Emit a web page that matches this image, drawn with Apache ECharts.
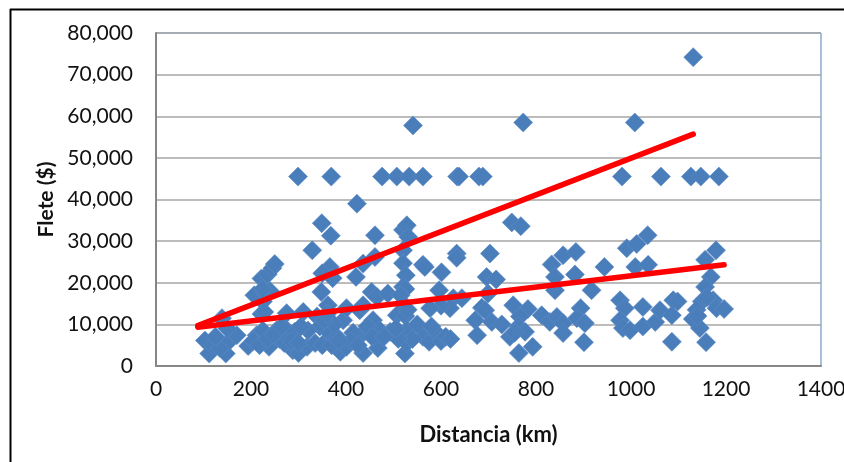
<!DOCTYPE html>
<html><head><meta charset="utf-8">
<style>html,body{margin:0;padding:0;background:#fff}#c{width:844px;height:462px}</style>
<script src="https://cdn.jsdelivr.net/npm/echarts@6/dist/echarts.min.js"></script>
</head><body><div id="c"></div>
<script>
const tituloX = "Distancia (km)";
const tituloY = "Flete ($)";
const puntosAltos = [[299,45500],[369,45500],[423,39000],[476,45500],[507,45500],[533,45500],[562,45500],[634,45500],[638,45500],[680,45500],[688,45500],[541,57800],[773,58500],[1008,58500],[1131,74200],[981,45500],[1063,45500],[1126,45500],[1147,45500],[1185,45500],[749,34500],[768,33600]];
const puntosIzquierda = [[112,3000],[147,3000],[103,6100],[120,5000],[135,4300],[156,6200],[170,7400],[139,11500],[150,9000],[125,7000],[194,4800],[212,7400],[225,8500],[222,12500],[225,15500],[228,13000],[215,17000],[207,17000],[230,17500],[222,21000],[235,22000],[245,23500],[250,24500],[240,18000],[238,4600],[275,12700],[254,8600],[288,3800],[300,3100],[318,4600],[310,13000],[275,8700],[292,8200],[349,34300],[368,31300],[329,27800],[366,23800],[350,22300],[372,21100],[348,17800],[362,14600],[339,11900],[345,9500],[360,6200],[388,3400],[401,4600],[366,7900],[381,7000],[394,11000],[401,13900],[429,13400],[436,14600],[421,21400],[461,31400],[461,26200],[436,24600],[454,17800],[465,16600],[488,17400],[520,32700],[528,33800],[531,31000],[520,27800],[520,24700],[526,21800],[520,19000],[562,24300],[507,12200],[525,12000],[457,11000],[471,8600],[467,4300],[493,8200],[436,3100],[436,7900],[415,8000],[524,3000],[528,5500],[528,8600],[562,7000],[550,10000],[540,6500],[260,6500],[270,5500],[285,6000],[300,5500],[335,5500],[350,5000],[370,5000],[375,10000],[355,11000],[320,8500],[305,9500],[410,6000],[425,5000],[385,6000],[510,6500],[505,9000],[575,5800],[590,8000],[600,6000],[610,7000],[580,9500],[620,6500],[205,6000],[218,5000],[235,6500],[248,7500],[265,9500],[525,18500],[520,15000],[530,13500],[515,17000],[445,9500],[455,7000],[480,7000],[360,12500],[225,18500]];
const puntosDerecha = [[633,27000],[633,26000],[703,27000],[601,22500],[566,23800],[596,18200],[626,16300],[644,16300],[619,13900],[600,14500],[577,13900],[696,21400],[716,20800],[699,17400],[686,14000],[693,13400],[672,11000],[707,10600],[728,10000],[676,7400],[752,14600],[783,13700],[766,11900],[763,9500],[777,8200],[745,7000],[755,8000],[764,3100],[793,4600],[812,12200],[829,10600],[844,11800],[857,10300],[857,7900],[833,24400],[840,21400],[840,18200],[857,26600],[884,27400],[882,22000],[917,18200],[944,23800],[894,13900],[886,11500],[903,10300],[901,5700],[977,15800],[987,13900],[977,11000],[983,9100],[998,8600],[1025,14200],[1025,9500],[1051,10600],[1061,13400],[1086,12200],[1089,15800],[1098,15500],[1086,5800],[991,28300],[1012,29300],[1035,31400],[1009,23800],[1036,24300],[1130,11300],[1145,9100],[1158,5700],[1149,15500],[1138,13500],[1173,15800],[1180,13900],[1196,13700],[1156,25500],[1179,27800],[1168,21400],[1156,19000],[1160,16500],[1140,12000]];
const lineaSuperior = [[88,9700],[1131,55700]];
const lineaInferior = [[88,9300],[1196,24300]];
const fuente = "Lato, 'Open Sans', sans-serif";
const chart = echarts.init(document.getElementById('c'), null, {renderer:'canvas'});
const etiqueta = {fontFamily:fuente, fontSize:21, color:'#111'};
chart.setOption({
  animation:false,
  graphic:[
    {type:'line',shape:{x1:10.5,y1:9,x2:10.5,y2:462},style:{stroke:'#000',lineWidth:2}},
    {type:'line',shape:{x1:10,y1:9.5,x2:844,y2:9.5},style:{stroke:'#000',lineWidth:2}}
  ],
  grid:{left:156,top:33,width:665,height:333,show:true,borderColor:'#4f81bd',borderWidth:1,backgroundColor:'transparent',outerBoundsMode:'none'},
  xAxis:{type:'value',min:0,max:1400,interval:200,name:tituloX,nameLocation:'middle',nameGap:58,
    nameTextStyle:{fontFamily:fuente,fontSize:22,fontWeight:'bold',color:'#111'},
    axisLine:{lineStyle:{color:'#868686',width:2}},axisTick:{show:false},splitLine:{show:false},
    axisLabel:Object.assign({margin:13,showMaxLabel:true,formatter:v=>String(v)},etiqueta)},
  yAxis:{type:'value',min:0,max:80000,interval:10000,name:tituloY,nameLocation:'middle',nameGap:99,
    nameTextStyle:{fontFamily:fuente,fontSize:21,fontWeight:'bold',color:'#111'},
    axisLine:{show:true,lineStyle:{color:'#868686',width:2}},axisTick:{show:false},
    splitLine:{lineStyle:{color:'#a6a6a6',width:1.5}},
    axisLabel:Object.assign({margin:23,formatter:v=>v.toLocaleString('en-US')},etiqueta)},
  series:[
    {type:'scatter',symbol:'diamond',symbolSize:19,data:puntosAltos.concat(puntosIzquierda,puntosDerecha),
     itemStyle:{color:'#4a7ebb',borderColor:'#5c8cc6',borderWidth:0.6,opacity:1},z:2},
    {type:'line',data:lineaSuperior,symbol:'none',lineStyle:{color:'#ff0000',width:5.5,cap:'round'},z:3},
    {type:'line',data:lineaInferior,symbol:'none',lineStyle:{color:'#ff0000',width:5.5,cap:'round'},z:3}
  ]
});
</script></body></html>
